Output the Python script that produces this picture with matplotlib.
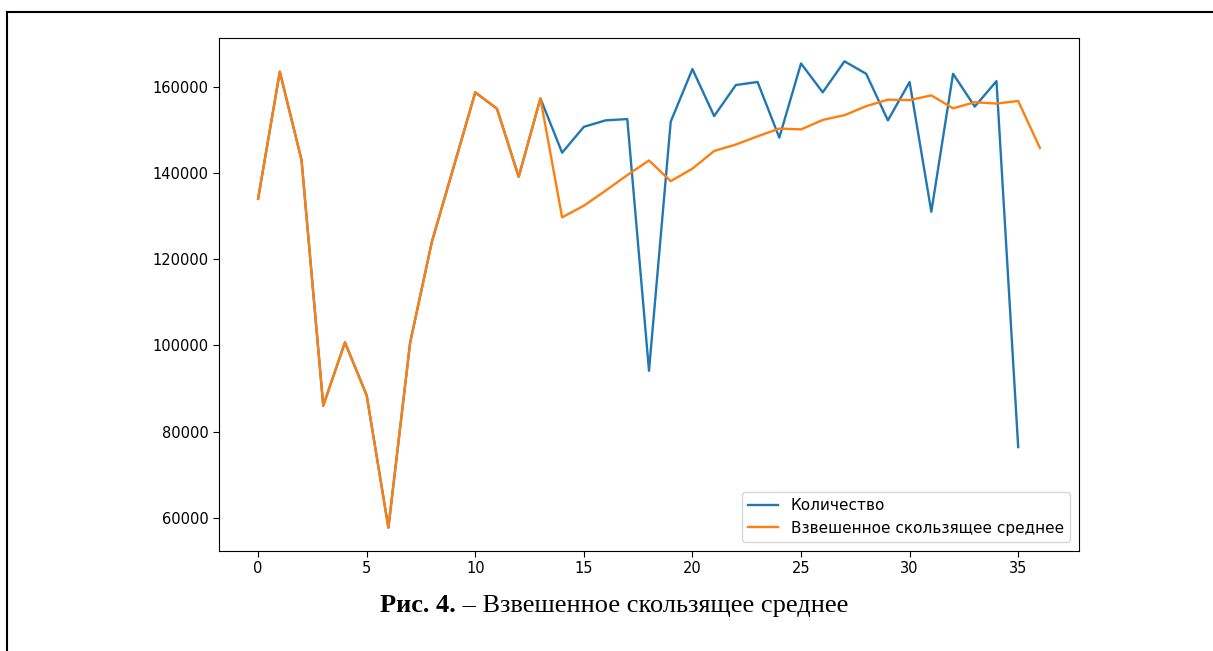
import numpy as np
import matplotlib
matplotlib.use('Agg')
import matplotlib.pyplot as plt
from matplotlib.lines import Line2D

plt.rcParams['font.family'] = ['DejaVu Sans']

# Исходный ряд (количество) и взвешенное скользящее среднее
kolichestvo = [134000, 163500, 143000, 86000, 100700, 88400, 57700, 100600,
               124000, 141300, 158700, 154900, 139100, 157300, 144700, 150700,
               152200, 152500, 94100, 151900, 164100, 153200, 160400, 161100,
               148200, 165400, 158700, 165900, 163000, 152200, 161100, 131000,
               163000, 155400, 161300, 76400]

vzv_srednee = [134000, 163500, 143000, 86000, 100700, 88400, 57700, 100600,
               124000, 141300, 158700, 154900, 139100, 157300, 129700, 132400,
               135900, 139500, 142900, 138100, 141000, 145100, 146600, 148500,
               150300, 150100, 152300, 153400, 155500, 157000, 156900, 158000,
               155000, 156400, 156100, 156700, 145800]

legend_labels = ['Количество', 'Взвешенное скользящее среднее']

fig = plt.figure(figsize=(12.13, 6.51), dpi=100)
ax = fig.add_axes([219 / 1213, 1 - 551 / 651, 860 / 1213, 513 / 651])

ax.plot(range(len(kolichestvo)), kolichestvo, color='#1f77b4', lw=1.7, label=legend_labels[0])
ax.plot(range(len(vzv_srednee)), vzv_srednee, color='#ff7f0e', lw=1.7, label=legend_labels[1])

ax.set_xticks([0, 5, 10, 15, 20, 25, 30, 35])
ax.set_yticks([60000, 80000, 100000, 120000, 140000, 160000])
ax.tick_params(labelsize=10.5, length=4)
ax.legend(loc='lower right', fontsize=11, borderaxespad=0.6)

# рамка страницы слева и сверху
fig.add_artist(Line2D([6.5 / 1213, 6.5 / 1213], [0, 1 - 11.5 / 651], color='black', lw=1.5))
fig.add_artist(Line2D([6.5 / 1213, 1], [1 - 11.5 / 651, 1 - 11.5 / 651], color='black', lw=1.5))

# подпись рисунка: жирная часть и обычная
serif = ['Liberation Serif', 'DejaVu Serif']
fig.canvas.draw()
renderer = fig.canvas.get_renderer()
t1 = fig.text(0, 0, 'Рис. 4.', family=serif, weight='bold', fontsize=19)
t2 = fig.text(0, 0, ' – Взвешенное скользящее среднее', family=serif, fontsize=19)
w1 = t1.get_window_extent(renderer).width / 1213
w2 = t2.get_window_extent(renderer).width / 1213
x0 = 614 / 1213 - (w1 + w2) / 2
y0 = 1 - 612 / 651
t1.set_position((x0, y0))
t2.set_position((x0 + w1, y0))

fig.savefig('out.png', dpi=100)
